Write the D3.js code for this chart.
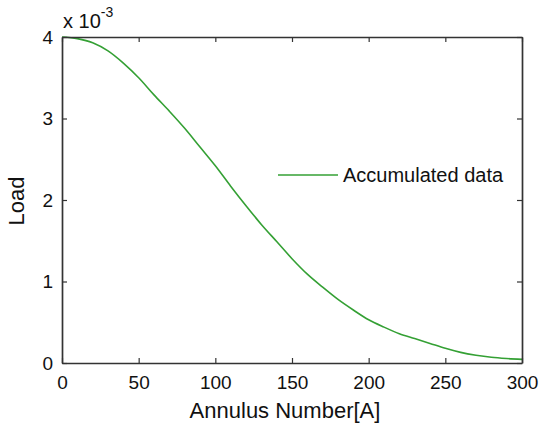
<!DOCTYPE html>
<html>
<head>
<meta charset="utf-8">
<script src="https://cdn.jsdelivr.net/npm/d3@7"></script>
<style>
  html, body { margin: 0; padding: 0; background: #fff; }
  svg text { font-family: "Liberation Sans", Arial, sans-serif; fill: #111; }
</style>
</head>
<body>
<svg id="chart" width="547" height="426"></svg>
<script>
// annulus number vs accumulated load (values in absolute units, axis shows x 10^-3)
const annulus = [0, 10, 20, 30, 40, 50, 60, 70, 80, 90, 100, 110, 120, 130, 140, 150,
                 160, 170, 180, 190, 200, 210, 220, 230, 240, 250, 260, 270, 280, 290, 300];
const load = [4.00, 3.98, 3.93, 3.83, 3.68, 3.50, 3.29, 3.09, 2.88, 2.65, 2.42, 2.17, 1.93,
              1.70, 1.49, 1.28, 1.09, 0.93, 0.78, 0.65, 0.53, 0.44, 0.36, 0.30, 0.24, 0.18,
              0.13, 0.095, 0.07, 0.055, 0.045].map(v => v * 1e-3);
const xTicks = [0, 50, 100, 150, 200, 250, 300];
const yTicks = [0, 1, 2, 3, 4].map(v => v * 1e-3);
const seriesName = 'Accumulated data';

const svg = d3.select('#chart');
const m = { left: 62, right: 25, top: 37, bottom: 63 };
const W = 547, H = 426;
const iw = W - m.left - m.right, ih = H - m.top - m.bottom;
const g = svg.append('g').attr('transform', `translate(${m.left},${m.top})`);

const x = d3.scaleLinear([0, 300], [0, iw]);
const y = d3.scaleLinear([0, 4e-3], [ih, 0]);
const fmtY = d => d3.format('d')(Math.round(d / 1e-3));
const axisColor = '#333';

// data line first, frame on top
const line = d3.line().x((d, i) => x(annulus[i])).y(d => y(d)).curve(d3.curveMonotoneX);
g.append('path').datum(load).attr('fill', 'none').attr('stroke', '#34a034')
  .attr('stroke-width', 1.6).attr('d', line);

// axes with inward ticks on all sides (matlab box)
const styleAxis = sel => {
  sel.select('.domain').attr('stroke', axisColor).attr('stroke-width', 1.7);
  sel.selectAll('.tick line').attr('stroke', axisColor).attr('stroke-width', 1.2);
  sel.selectAll('.tick text').style('font-size', '19px').attr('fill', '#111');
};
g.append('g').attr('transform', `translate(0,${ih})`)
  .call(d3.axisBottom(x).tickValues(xTicks).tickSizeInner(-5).tickSizeOuter(0).tickPadding(10))
  .call(styleAxis).selectAll('.tick text').attr('dy', '0.85em');
g.append('g')
  .call(d3.axisLeft(y).tickValues(yTicks).tickFormat(fmtY).tickSizeInner(-5).tickSizeOuter(0).tickPadding(9))
  .call(styleAxis);
g.append('g')
  .call(d3.axisTop(x).tickValues(xTicks).tickFormat('').tickSizeInner(-5).tickSizeOuter(0))
  .call(styleAxis);
g.append('g').attr('transform', `translate(${iw},0)`)
  .call(d3.axisRight(y).tickValues(yTicks).tickFormat('').tickSizeInner(-5).tickSizeOuter(0))
  .call(styleAxis);

// exponent label
const ex = svg.append('text').attr('x', 63).attr('y', 28).style('font-size', '20px');
ex.append('tspan').text('x 10');
ex.append('tspan').attr('dy', -11).style('font-size', '14px').text('-3');

// axis titles
svg.append('text').attr('x', m.left + iw / 2 - 7).attr('y', 418).attr('text-anchor', 'middle')
  .style('font-size', '22px').text('Annulus Number[A]');
svg.append('text').attr('transform', 'translate(24,201) rotate(-90)').attr('text-anchor', 'middle')
  .style('font-size', '22px').text('Load');

// legend (no box)
const lg = svg.append('g').attr('transform', 'translate(278,175)');
lg.append('line').attr('x1', 0).attr('x2', 60).attr('stroke', '#34a034').attr('stroke-width', 1.6);
lg.append('text').attr('x', 65).attr('y', 7).style('font-size', '20px').text(seriesName);
</script>
</body>
</html>
